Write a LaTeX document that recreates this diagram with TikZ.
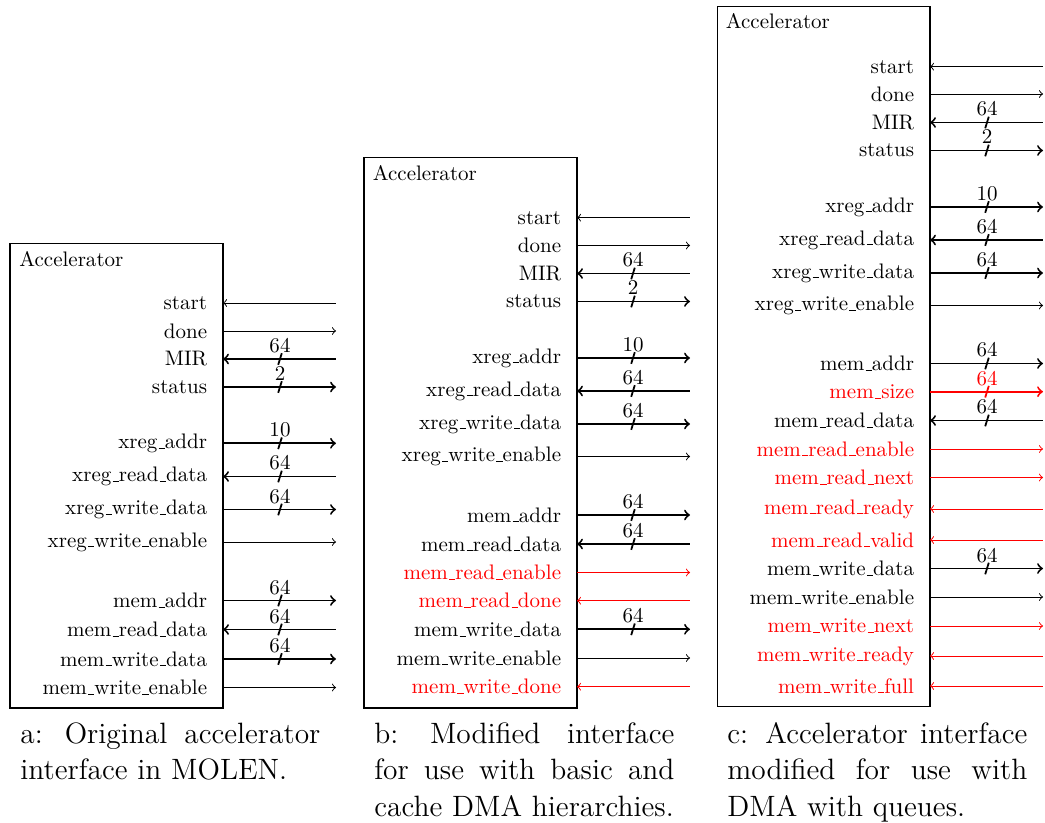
\documentclass[tikz,border=0pt]{standalone}
\usetikzlibrary{calc,fit}

\definecolor{sigred}{RGB}{255,0,0}

% short underscore drawn as a rule, as in the classic text encoding
\newcommand{\usc}{\leavevmode\kern.06em\vbox{\hrule width.3em}}
\newlength{\capw}\setlength{\capw}{142.8pt}
\newcommand{\capfont}{\fontsize{14}{17.5}\selectfont}
% a justified caption line: words are spread over the full width
\newcommand{\gap}{ \hfil }
\newcommand{\capline}[1]{\leavevmode\hbox to \capw{#1}}

% current panel: id, box right edge, arrow end, bus mark position
\newcommand{\setpanel}[4]{\def\pid{#1}\def\xr{#2}\def\xe{#3}\def\xs{#4}}

% one signal: #1 id, #2 y, #3 label, #4 colour, #5 arrow direction, #6 bus width
\newcommand{\sigline}[6]{%
  \node[siglabel, text=#4] (\pid-#1) at (\xr-15.5,#2) {#3};
  \coordinate (\pid-#1-b) at (\xr,#2);
  \coordinate (\pid-#1-e) at (\xe,#2);
  \ifx&#6&%
    \draw[wire, draw=#4, #5] (\pid-#1-b) -- (\pid-#1-e);
  \else
    \draw[bus, draw=#4, #5] (\pid-#1-b) -- (\pid-#1-e);
    \coordinate (\pid-#1-m1) at ($(\xs,#2)+(-1.8,5.8)$);
    \coordinate (\pid-#1-m2) at ($(\xs,#2)+(1.8,-5.8)$);
    \draw[busmark, draw=#4] (\pid-#1-m1) -- (\pid-#1-m2);
    \node[busnum, text=#4] (\pid-#1-w) at (\xs,#2-6.5) {#6};
  \fi}

\tikzset{
  x=0.476pt, y=-0.476pt,
  accbox/.style={draw, line width=0.5pt, inner sep=0pt},
  acctitle/.style={anchor=base west, inner sep=0pt},
  siglabel/.style={anchor=east, inner sep=0pt},
  wire/.style={line width=0.45pt},
  bus/.style={line width=0.9pt},
  busmark/.style={line width=0.85pt},
  busnum/.style={anchor=base, inner sep=0pt},
  captext/.style={anchor=base west, inner sep=0pt, text width=\capw, align=left, font=\capfont},
}

\begin{document}
\begin{tikzpicture}
\useasboundingbox (0,0) rectangle (1045,823);

% ---------------- panel a: original interface ----------------
\node[accbox, fit={(10,243.5) (223,708)}] (a-box) {};
\node[acctitle] (a-title) at (19,266.5) {Accelerator};
\setpanel{a}{223}{336}{280}
\sigline{start}{303}{start}{black}{<-}{}
\sigline{done}{331}{done}{black}{->}{}
\sigline{mir}{359}{MIR}{black}{<-}{64}
\sigline{status}{387}{status}{black}{->}{2}
\sigline{xaddr}{443.3}{xreg\usc addr}{black}{->}{10}
\sigline{xrdata}{476.5}{xreg\usc read\usc data}{black}{<-}{64}
\sigline{xwdata}{509.5}{xreg\usc write\usc data}{black}{->}{64}
\sigline{xwen}{542}{xreg\usc write\usc enable}{black}{->}{}
\sigline{maddr}{600.5}{mem\usc addr}{black}{->}{64}
\sigline{mrdata}{629.5}{mem\usc read\usc data}{black}{<-}{64}
\sigline{mwdata}{659}{mem\usc write\usc data}{black}{->}{64}
\sigline{mwen}{687.5}{mem\usc write\usc enable}{black}{->}{}

\node[captext] (a-cap) at (20,743) {\capline{a:\gap Original\gap accelerator}\\interface in MOLEN.};

% ---------------- panel b: basic and cache DMA ----------------
\node[accbox, fit={(364,157.3) (577,708)}] (b-box) {};
\node[acctitle] (b-title) at (372.5,180.5) {Accelerator};
\setpanel{b}{577}{690}{633}
\sigline{start}{217.7}{start}{black}{<-}{}
\sigline{done}{245.5}{done}{black}{->}{}
\sigline{mir}{273.5}{MIR}{black}{<-}{64}
\sigline{status}{301.5}{status}{black}{->}{2}
\sigline{xaddr}{358}{xreg\usc addr}{black}{->}{10}
\sigline{xrdata}{391}{xreg\usc read\usc data}{black}{<-}{64}
\sigline{xwdata}{424}{xreg\usc write\usc data}{black}{->}{64}
\sigline{xwen}{456.5}{xreg\usc write\usc enable}{black}{->}{}
\sigline{maddr}{515}{mem\usc addr}{black}{->}{64}
\sigline{mrdata}{544}{mem\usc read\usc data}{black}{<-}{64}
\sigline{mren}{572.5}{mem\usc read\usc enable}{sigred}{->}{}
\sigline{mrdone}{600.7}{mem\usc read\usc done}{sigred}{<-}{}
\sigline{mwdata}{629.3}{mem\usc write\usc data}{black}{->}{64}
\sigline{mwen}{658}{mem\usc write\usc enable}{black}{->}{}
\sigline{mwdone}{686.7}{mem\usc write\usc done}{sigred}{<-}{}

\node[captext] (b-cap) at (374,743) {\capline{b:\gap Modified\gap interface}\\\capline{for\gap use\gap with\gap basic\gap and}\\cache DMA hierarchies.};

% ---------------- panel c: DMA with queues ----------------
\node[accbox, fit={(717.3,6.7) (930,706.7)}] (c-box) {};
\node[acctitle] (c-title) at (725.5,28.5) {Accelerator};
\setpanel{c}{930}{1043}{987}
\sigline{start}{66.7}{start}{black}{<-}{}
\sigline{done}{94}{done}{black}{->}{}
\sigline{mir}{122.5}{MIR}{black}{<-}{64}
\sigline{status}{150.5}{status}{black}{->}{2}
\sigline{xaddr}{207}{xreg\usc addr}{black}{->}{10}
\sigline{xrdata}{240}{xreg\usc read\usc data}{black}{<-}{64}
\sigline{xwdata}{273}{xreg\usc write\usc data}{black}{->}{64}
\sigline{xwen}{305.5}{xreg\usc write\usc enable}{black}{->}{}
\sigline{maddr}{363.5}{mem\usc addr}{black}{->}{64}
\sigline{msize}{391.7}{mem\usc size}{sigred}{->}{64}
\sigline{mrdata}{420.5}{mem\usc read\usc data}{black}{<-}{64}
\sigline{mren}{449}{mem\usc read\usc enable}{sigred}{->}{}
\sigline{mrnext}{477.5}{mem\usc read\usc next}{sigred}{->}{}
\sigline{mrready}{509}{mem\usc read\usc ready}{sigred}{<-}{}
\sigline{mrvalid}{540}{mem\usc read\usc valid}{sigred}{<-}{}
\sigline{mwdata}{568.5}{mem\usc write\usc data}{black}{->}{64}
\sigline{mwen}{597}{mem\usc write\usc enable}{black}{->}{}
\sigline{mwnext}{626}{mem\usc write\usc next}{sigred}{->}{}
\sigline{mwready}{656}{mem\usc write\usc ready}{sigred}{<-}{}
\sigline{mwfull}{686}{mem\usc write\usc full}{sigred}{<-}{}

\node[captext] (c-cap) at (727,743) {\capline{c:\gap Accelerator\gap interface}\\\capline{modified\gap for\gap use\gap with}\\DMA with queues.};

\end{tikzpicture}
\end{document}
